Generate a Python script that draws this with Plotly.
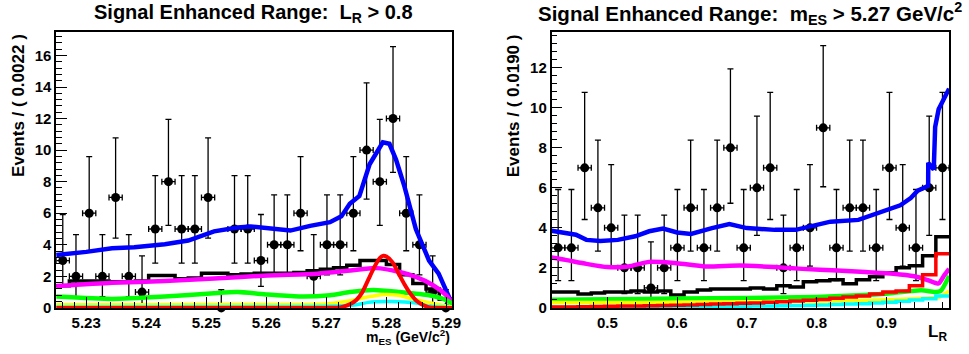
import numpy as np
import plotly.graph_objects as go

# ---------------- data: left panel (m_ES, L_R > 0.8) ----------------
mes_lo, mes_hi, mes_nbins = 5.225, 5.291, 30
mes_counts = [3, 2, 6, 2, 7, 2, 1, 5, 8, 5, 5, 7, 0, 5, 5, 3, 4, 4, 6, 2,
              4, 4, 6, 10, 8, 12, 6, 4, 1, 0]

mes_blue_x = [5.2250, 5.2285, 5.2300, 5.2343, 5.2380, 5.2431, 5.2470, 5.2513, 5.2552,
              5.2574, 5.2602, 5.2640, 5.2673, 5.2706, 5.2725, 5.2739, 5.2755, 5.2772,
              5.2794, 5.2805, 5.2816, 5.2830, 5.2849, 5.2860, 5.2871, 5.2887, 5.2899, 5.2910]
mes_blue_y = [3.35, 3.45, 3.55, 3.78, 3.85, 4.03, 4.27, 4.85, 5.10,
              5.16, 5.06, 4.90, 5.20, 5.43, 5.80, 6.60, 7.10, 9.10,
              10.50, 10.40, 9.40, 7.70, 5.00, 4.00, 3.00, 2.17, 1.13, 0.20]

mes_black = [1.40, 1.70, 1.70, 1.70, 1.65, 1.65, 1.70, 2.05, 2.05, 1.85,
             1.90, 2.20, 2.20, 2.10, 2.15, 2.20, 2.20, 2.20, 2.25, 2.35,
             2.45, 2.55, 2.70, 3.00, 3.00, 2.75, 2.10, 1.55, 1.20, 0.55]

mes_mag_x = [5.2250, 5.2343, 5.2431, 5.2513, 5.2602, 5.2685, 5.2740, 5.2783, 5.2822, 5.2849,
             5.2877, 5.2899, 5.2910]
mes_mag_y = [1.38, 1.59, 1.70, 1.86, 2.06, 2.17, 2.37, 2.52, 2.27, 1.96,
             1.45, 0.83, 0.30]

mes_green_x = [5.2250, 5.2343, 5.2431, 5.2513, 5.2552, 5.2602, 5.2657, 5.2706, 5.2739,
               5.2778, 5.2822, 5.2871, 5.2899, 5.2910]
mes_green_y = [0.72, 0.57, 0.72, 0.93, 1.00, 0.85, 0.72, 0.80, 1.00,
               1.13, 1.00, 0.80, 0.50, 0.25]

mes_yellow_x = [5.2250, 5.2400, 5.2600, 5.2700, 5.2740, 5.2770, 5.2795, 5.2820, 5.2845,
                5.2870, 5.2895, 5.2910]
mes_yellow_y = [0.20, 0.20, 0.22, 0.25, 0.45, 0.70, 0.85, 0.80, 0.55,
                0.35, 0.15, 0.05]

mes_cyan_x = [5.2250, 5.2500, 5.2700, 5.2750, 5.2770, 5.2800, 5.2830, 5.2850, 5.2870,
              5.2910]
mes_cyan_y = [0.05, 0.07, 0.10, 0.20, 0.35, 0.40, 0.38, 0.30, 0.12, 0.03]

mes_red_x = [5.2250, 5.2700, 5.2725, 5.2740, 5.2750, 5.2760, 5.2770, 5.2780, 5.2790, 5.2795,
             5.2800, 5.2810, 5.2820, 5.2830, 5.2840, 5.2850, 5.2860, 5.2870, 5.2885, 5.2910]
mes_red_y = [0.00, 0.00, 0.05, 0.25, 0.50, 1.00, 1.80, 2.60, 3.20, 3.30,
             3.25, 2.90, 2.20, 1.50, 0.90, 0.45, 0.20, 0.05, 0.00, 0.00]

# ---------------- data: right panel (L_R, m_ES > 5.27) ----------------
lr_lo, lr_hi, lr_nbins = 0.42, 0.99, 30
lr_counts = [3, 3, 7, 5, 4, 2, 2, 1, 2, 3, 5, 3, 5, 8, 3, 6, 7, 2, 3, 4,
             9, 3, 5, 5, 3, 7, 4, 3, 6, 7]

lr_blue_x = [0.420, 0.440, 0.455, 0.470, 0.490, 0.515, 0.540, 0.560, 0.580, 0.600,
             0.620, 0.650, 0.675, 0.700, 0.740, 0.770, 0.800, 0.820, 0.860, 0.880,
             0.900, 0.920, 0.935, 0.945, 0.955, 0.960, 0.9601, 0.968, 0.970, 0.975, 0.990]
lr_blue_y = [3.86, 3.75, 3.66, 3.40, 3.34, 3.40, 3.58, 3.83, 3.97, 3.77,
             3.70, 3.99, 4.19, 3.99, 3.90, 3.90, 4.15, 4.31, 4.40, 4.64,
             4.89, 5.13, 5.49, 5.86, 6.02, 6.10, 7.25, 6.92, 9.04, 9.93, 10.96]

lr_black = [0.80, 0.80, 0.70, 0.75, 0.80, 0.80, 0.85, 0.80, 0.85, 0.65,
            0.80, 0.90, 0.95, 0.95, 0.95, 1.00, 0.95, 1.10, 1.05, 1.30,
            1.35, 1.40, 1.20, 1.40, 1.55, 1.75, 2.00, 2.10, 2.60, 3.55]

lr_mag_x = [0.420, 0.440, 0.470, 0.500, 0.530, 0.560, 0.600, 0.640, 0.690, 0.740,
            0.780, 0.830, 0.870, 0.910, 0.940, 0.960, 0.975, 0.983, 0.990]
lr_mag_y = [2.52, 2.40, 2.20, 2.04, 2.07, 2.30, 2.23, 2.07, 2.12, 2.04,
            1.95, 1.87, 1.79, 1.71, 1.58, 1.38, 1.22, 1.63, 1.95]

lr_green_x = [0.420, 0.500, 0.600, 0.700, 0.800, 0.870, 0.910, 0.950, 0.970, 0.978, 0.990]
lr_green_y = [0.41, 0.43, 0.47, 0.50, 0.55, 0.65, 0.75, 0.88, 0.80, 0.85, 1.60]

lr_yellow_x = [0.420, 0.500, 0.600, 0.700, 0.800, 0.880, 0.930, 0.960, 0.975, 0.990]
lr_yellow_y = [0.27, 0.27, 0.28, 0.30, 0.33, 0.38, 0.45, 0.50, 0.52, 0.85]

lr_cyan = [0.03, 0.03, 0.03, 0.04, 0.04, 0.04, 0.05, 0.05, 0.05, 0.06,
           0.06, 0.07, 0.07, 0.08, 0.08, 0.09, 0.10, 0.11, 0.12, 0.13,
           0.15, 0.17, 0.19, 0.21, 0.24, 0.28, 0.33, 0.40, 0.46, 0.60]

lr_red = [0.05, 0.05, 0.06, 0.07, 0.08, 0.09, 0.10, 0.11, 0.12, 0.13,
          0.15, 0.17, 0.19, 0.21, 0.23, 0.25, 0.28, 0.31, 0.34, 0.38,
          0.42, 0.48, 0.55, 0.60, 0.70, 0.80, 0.85, 1.10, 1.65, 2.70]

# Poisson (68%) interval half-widths, as drawn by the plotting framework
pois_lo = {0: 0.0, 1: 0.827, 2: 1.292, 3: 1.633, 4: 1.914, 5: 2.159, 6: 2.379,
           7: 2.581, 8: 2.768, 9: 2.944, 10: 3.108, 12: 3.415}
pois_hi = {0: 1.148, 1: 2.299, 2: 2.637, 3: 2.918, 4: 3.162, 5: 3.382, 6: 3.583,
           7: 3.770, 8: 3.944, 9: 4.110, 10: 4.266, 12: 4.559}

# ---------------- styling ----------------
FONT = "Liberation Sans, Arial, Helvetica, sans-serif"
W, H = 969, 354
ydom = [39 / H, 321 / H]
xdom_l = [56.7 / W, 456.7 / W]
xdom_r = [556.7 / W, 958.0 / W]

fig = go.Figure()


def add_panel(xref, yref, lo, hi, nb, counts, blue, black, mag, green, yellow, cyan, red,
              cyan_hist=False, red_hist=False):
    edges = np.linspace(lo, hi, nb + 1)
    centers = 0.5 * (edges[:-1] + edges[1:])
    half = 0.5 * (hi - lo) / nb
    kw = dict(xaxis=xref, yaxis=yref, showlegend=False, hoverinfo="skip")
    fig.add_trace(go.Scatter(
        x=centers, y=counts, mode="markers",
        marker=dict(color="black", size=9, symbol="circle"),
        error_y=dict(type="data", symmetric=False,
                     array=[pois_hi[c] for c in counts],
                     arrayminus=[pois_lo[c] for c in counts],
                     color="black", thickness=1.3, width=3),
        error_x=dict(type="constant", value=half, color="black", thickness=1.3, width=3),
        cliponaxis=False, **kw))

    def hist(vals, color, width):
        fig.add_trace(go.Scatter(
            x=list(edges), y=list(vals) + [vals[-1]], mode="lines",
            line=dict(color=color, width=width, shape="hv"), **kw))

    def curve(xy, color, width, shape="spline"):
        fig.add_trace(go.Scatter(
            x=xy[0], y=xy[1], mode="lines",
            line=dict(color=color, width=width, shape=shape, smoothing=0.6), **kw))

    hist(black, "black", 3.5)
    curve(blue, "#0000ff", 4.5, "linear")
    curve(mag, "#ff00ff", 4.5)
    curve(green, "#00ff00", 4.5)
    curve(yellow, "#ffff00", 3.5)
    if cyan_hist:
        hist(cyan, "#00ffff", 3.5)
    else:
        curve(cyan, "#00ffff", 3.5)
    if red_hist:
        hist(red, "#ff0000", 3.5)
    else:
        curve(red, "#ff0000", 4)


add_panel("x", "y", mes_lo, mes_hi, mes_nbins, mes_counts,
          (mes_blue_x, mes_blue_y), mes_black, (mes_mag_x, mes_mag_y),
          (mes_green_x, mes_green_y), (mes_yellow_x, mes_yellow_y),
          (mes_cyan_x, mes_cyan_y), (mes_red_x, mes_red_y))
add_panel("x2", "y2", lr_lo, lr_hi, lr_nbins, lr_counts,
          (lr_blue_x, lr_blue_y), lr_black, (lr_mag_x, lr_mag_y),
          (lr_green_x, lr_green_y), (lr_yellow_x, lr_yellow_y),
          lr_cyan, lr_red, cyan_hist=True, red_hist=True)

tickfont = dict(family=FONT, size=15, color="black", weight="bold")
common_ax = dict(showline=True, linecolor="black", linewidth=1.5, mirror=True,
                 ticks="inside", ticklen=11, tickwidth=1.2, tickcolor="black",
                 showgrid=False, zeroline=False, tickfont=tickfont, fixedrange=True)

fig.update_layout(
    width=W, height=H, margin=dict(l=0, r=0, t=0, b=0),
    paper_bgcolor="white", plot_bgcolor="white",
    xaxis=dict(domain=xdom_l, range=[mes_lo, mes_hi], anchor="y",
               tick0=5.23, dtick=0.01, tickformat=".2f",
               minor=dict(ticks="inside", ticklen=6, dtick=0.002, tick0=5.23,
                          tickcolor="black", tickwidth=1.2),
               **common_ax),
    yaxis=dict(domain=ydom, range=[0, 17.47], anchor="x", tick0=0, dtick=2,
               minor=dict(ticks="inside", ticklen=6, dtick=0.4, tick0=0,
                          tickcolor="black", tickwidth=1.2),
               **common_ax),
    xaxis2=dict(domain=xdom_r, range=[lr_lo, lr_hi], anchor="y2",
                tick0=0.5, dtick=0.1, tickformat=".1f",
                minor=dict(ticks="inside", ticklen=6, dtick=0.02, tick0=0.5,
                           tickcolor="black", tickwidth=1.2),
                **common_ax),
    yaxis2=dict(domain=ydom, range=[0, 13.78], anchor="x2", tick0=0, dtick=2,
                minor=dict(ticks="inside", ticklen=6, dtick=0.4, tick0=0,
                           tickcolor="black", tickwidth=1.2),
                **common_ax),
)

ann_font = lambda s: dict(family=FONT, size=s, color="black", weight="bold")
annotations = [
    dict(text="Signal Enhanced Range:&nbsp; L<sub>R</sub> &gt; 0.8",
         x=256 / W, y=1 - 14 / H, xanchor="center", yanchor="middle", font=ann_font(20)),
    dict(text="Signal Enhanced Range:&nbsp; m<sub>ES</sub> &gt; 5.27 GeV/c<sup>2</sup>",
         x=757 / W, y=1 - 14 / H, xanchor="center", yanchor="middle", font=ann_font(20.5)),
    dict(text="Events / ( 0.0022 )", textangle=-90,
         x=18.5 / W, y=1 - 108 / H, xanchor="center", yanchor="middle", font=ann_font(17)),
    dict(text="Events / ( 0.0190 )", textangle=-90,
         x=518.5 / W, y=1 - 108 / H, xanchor="center", yanchor="middle", font=ann_font(17)),
    dict(text="m<sub>ES</sub> (GeV/c<sup>2</sup>)",
         x=456 / W, y=1 - 344.5 / H, xanchor="right", yanchor="middle", font=ann_font(14)),
    dict(text="L<sub>R</sub>",
         x=958 / W, y=1 - 341 / H, xanchor="right", yanchor="middle", font=ann_font(17)),
]
for a in annotations:
    a.update(xref="paper", yref="paper", showarrow=False)
fig.update_layout(annotations=annotations)

fig.write_html("out.html")
